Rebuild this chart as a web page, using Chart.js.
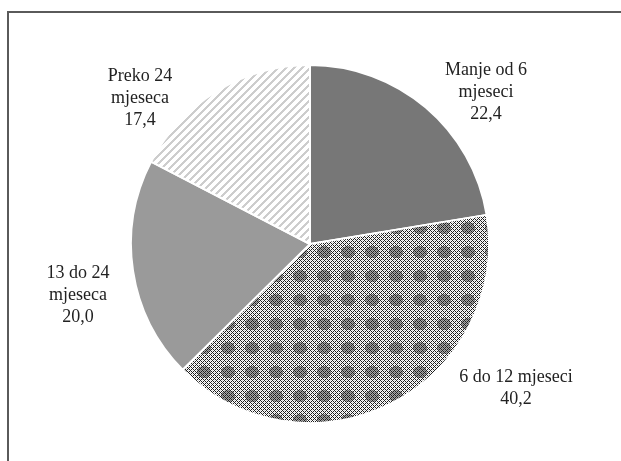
<!DOCTYPE html>
<html>
<head>
<meta charset="utf-8">
<script src="https://cdn.jsdelivr.net/npm/chart.js@4.4.0/dist/chart.umd.min.js"></script>
<style>
  html, body { margin: 0; padding: 0; background: #fff; }
  #wrap { width: 621px; height: 461px; }
</style>
</head>
<body>
<div id="wrap"><canvas id="grafikon" width="621" height="461"></canvas></div>
<script>
// trajanje nezaposlenosti, udio u %
var kategorije = [
    ['Manje od 6', 'mjeseci'],
    ['6 do 12 mjeseci'],
    ['13 do 24', 'mjeseca'],
    ['Preko 24', 'mjeseca']
];
var vrijednosti = [22.4, 40.2, 20.0, 17.4];

// gdje stoji tekst svakog isjecka (centar prvog reda)
var pozicijeTeksta = [[486, 70], [516, 377], [78, 273], [140, 76]];

function uzorakMreza() {
    var c = document.createElement('canvas');
    c.width = 24; c.height = 24;
    var g = c.getContext('2d');
    g.fillStyle = '#fff';
    g.fillRect(0, 0, 24, 24);
    for (var y = 0; y < 24; y++) {
        for (var x = 0; x < 24; x++) {
            var crno = ((x + y) % 4 == 0) || ((x - y + 24) % 4 == 0);
            var dx = (x - 11.5) / 7, dy = (y - 11.5) / 6;
            var sredina = dx * dx + dy * dy < 1;
            if (crno) {
                g.fillStyle = '#1e1e1e';
                g.fillRect(x, y, 1, 1);
            } else if (sredina) {
                g.fillStyle = (x + y) % 2 == 0 ? '#6e6e6e' : '#a8a8a8';
                g.fillRect(x, y, 1, 1);
            } else if ((x + y) % 2 == 0) {
                g.fillStyle = '#d0d0d0';
                g.fillRect(x, y, 1, 1);
            }
        }
    }
    return g.createPattern(c, 'repeat');
}

function uzorakPruge() {
    var c = document.createElement('canvas');
    c.width = 8; c.height = 8;
    var g = c.getContext('2d');
    g.fillStyle = '#fff';
    g.fillRect(0, 0, 8, 8);
    g.fillStyle = '#cdcdcd';
    for (var y = 0; y < 8; y++) {
        for (var x = 0; x < 8; x++) {
            if ((x + y) % 8 < 3) g.fillRect(x, y, 1, 1);
        }
    }
    return g.createPattern(c, 'repeat');
}

var okvir = {
    id: 'okvir',
    beforeDraw: function (chart) {
        var ctx = chart.ctx;
        ctx.save();
        ctx.strokeStyle = '#5a5a5a';
        ctx.lineWidth = 2;
        ctx.beginPath();
        ctx.moveTo(8, 461);
        ctx.lineTo(8, 12);
        ctx.lineTo(621, 12);
        ctx.stroke();
        ctx.restore();
    }
};

var natpisi = {
    id: 'natpisi',
    afterDraw: function (chart) {
        var ctx = chart.ctx;
        ctx.save();
        ctx.font = '18px "Liberation Serif", "DejaVu Serif", serif';
        ctx.fillStyle = '#222';
        ctx.textAlign = 'center';
        ctx.textBaseline = 'middle';
        chart.data.labels.forEach(function (lab, i) {
            var redovi = lab.concat([vrijednosti[i].toFixed(1).replace('.', ',')]);
            var p = pozicijeTeksta[i];
            redovi.forEach(function (r, j) {
                ctx.fillText(r, p[0], p[1] + j * 22);
            });
        });
        ctx.restore();
    }
};

const grafikon = new Chart(document.getElementById('grafikon'), {
    type: 'pie',
    data: {
        labels: kategorije,
        datasets: [{
            data: vrijednosti,
            backgroundColor: ['#777777', uzorakMreza(), '#9a9a9a', uzorakPruge()],
            borderColor: '#fff',
            borderWidth: 2
        }]
    },
    options: {
        responsive: false,
        animation: false,
        layout: { padding: { top: 64, bottom: 37, left: 130, right: 131 } },
        plugins: {
            legend: { display: false },
            tooltip: { enabled: false }
        }
    },
    plugins: [okvir, natpisi]
});
</script>
</body>
</html>
